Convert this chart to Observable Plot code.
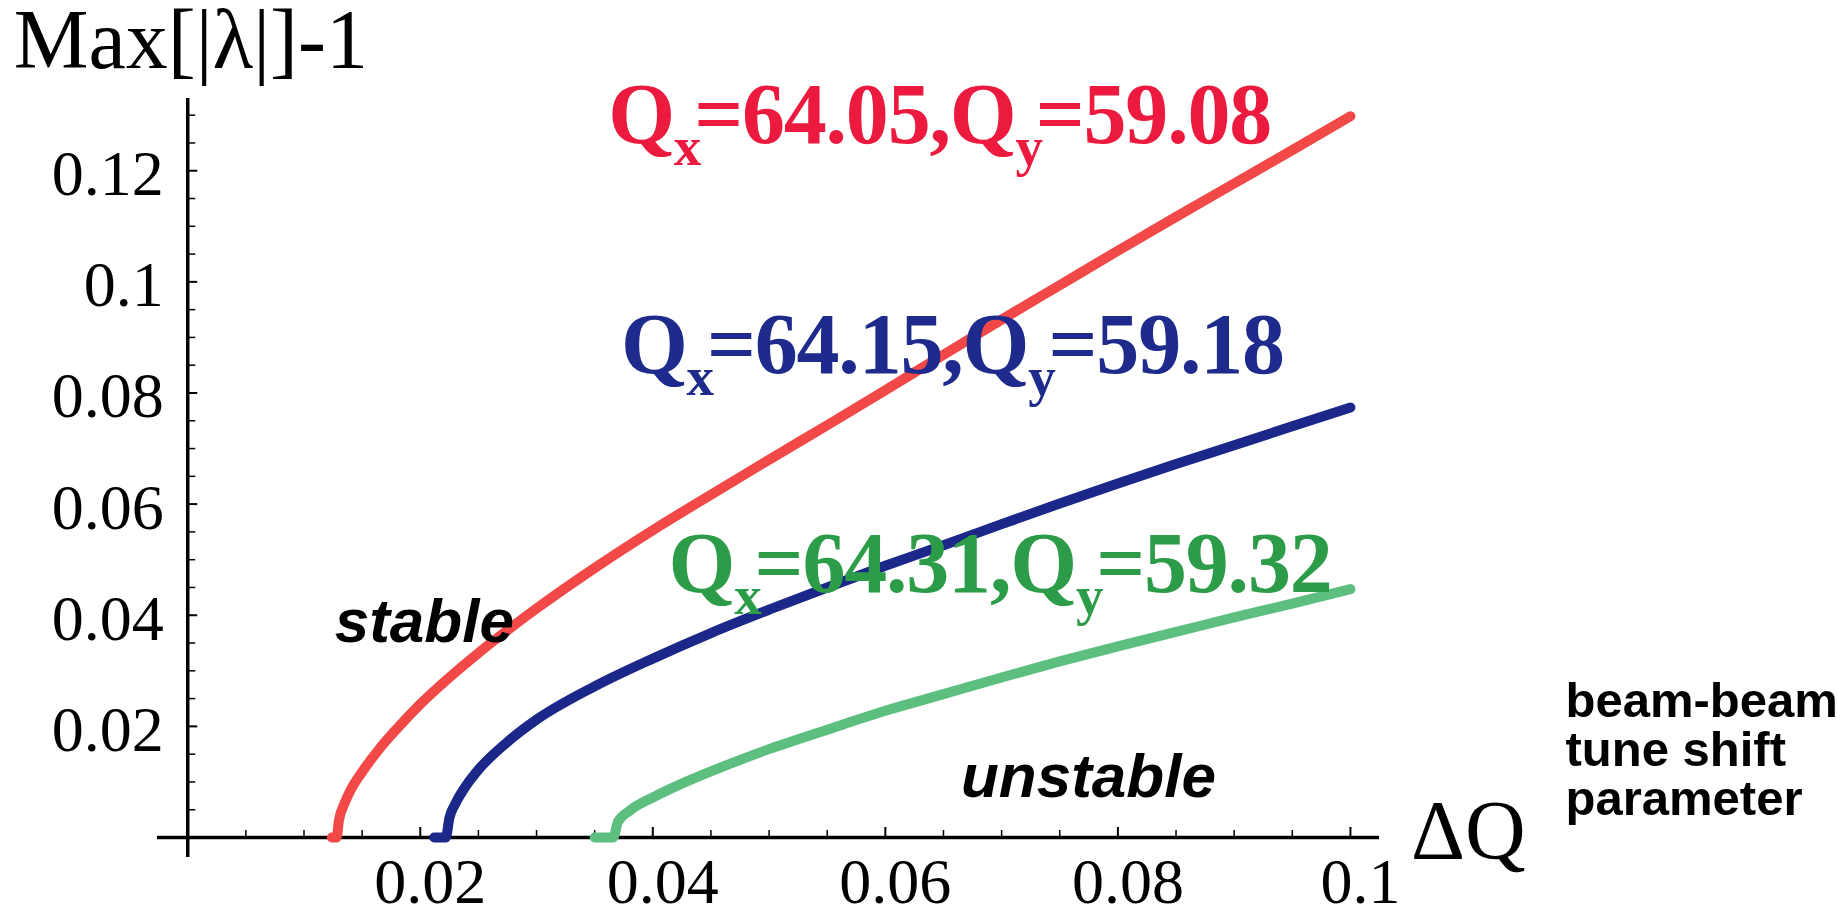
<!DOCTYPE html>
<html><head><meta charset="utf-8">
<script src="https://cdn.jsdelivr.net/npm/d3@7"></script>
<script src="https://cdn.jsdelivr.net/npm/@observablehq/plot@0.6"></script>
<style>body{margin:0;background:#fff;overflow:hidden} svg{display:block;overflow:visible}</style>
</head><body><div id="chart"></div>
<script>
// ---- data ----
const redDQ  = [0.0124,0.0128,0.0130,0.0135,0.0140,0.0150,0.0165,0.0180,0.0200,0.0225,0.0250,0.0275,0.0300,0.0350,0.0400,0.0450,0.0500,0.0550,0.0600,0.0650,0.0700,0.0750,0.0800,0.0850,0.0900,0.0950,0.1000];
const redVal = [0,0,0.0030,0.0062,0.0085,0.0118,0.0160,0.0196,0.0240,0.0288,0.0332,0.0373,0.0412,0.0485,0.0553,0.0617,0.0680,0.0742,0.0805,0.0869,0.0932,0.0994,0.1056,0.1117,0.1177,0.1237,0.1298];
const blueDQ  = [0.0212,0.0222,0.0225,0.0230,0.0240,0.0250,0.0275,0.0300,0.0350,0.0400,0.0450,0.0500,0.0550,0.0600,0.0650,0.0700,0.0750,0.0800,0.0850,0.0900,0.0950,0.1000];
const blueVal = [0,0,0.0035,0.0060,0.0095,0.0122,0.0172,0.0212,0.0272,0.0322,0.0368,0.0410,0.0450,0.0489,0.0526,0.0564,0.0601,0.0637,0.0672,0.0706,0.0740,0.0774];
const greenDQ  = [0.0350,0.0366,0.0370,0.0380,0.0400,0.0425,0.0450,0.0500,0.0550,0.0600,0.0650,0.0700,0.0750,0.0800,0.0850,0.0900,0.0950,0.1000];
const greenVal = [0,0,0.0028,0.0048,0.0072,0.0097,0.0119,0.0159,0.0194,0.0228,0.0258,0.0288,0.0317,0.0344,0.0370,0.0396,0.0421,0.0447];
const seriesNames = ["Qx=64.05,Qy=59.08","Qx=64.15,Qy=59.18","Qx=64.31,Qy=59.32"];
const labelParts = [["64.05","59.08"],["64.15","59.18"],["64.31","59.32"]];
const xTickValues = [0.02,0.04,0.06,0.08,0.1];
const yTickValues = [0.02,0.04,0.06,0.08,0.1,0.12];
const xTickLabels = ["0.02","0.04","0.06","0.08","0.1"];
const yTickLabels = ["0.02","0.04","0.06","0.08","0.1","0.12"];
const xMinor = d3.range(1,21).map(i => +(i*0.005).toFixed(3));
const yMinor = d3.range(1,27).map(i => +(i*0.005).toFixed(3));
const yTitle = "Max[|λ|]-1";
const xTitle = "ΔQ";
const noteStable = "stable";
const noteUnstable = "unstable";
const noteParam = "beam-beam\ntune shift\nparameter";

// ---- styles / layout ----
const lineColors  = ["#f24848","#1c2889","#5cbf80"];
const labelColors = ["#ec1a3e","#1e2a8c","#2c9c48"];
const W = 1837, H = 918, mL = 157, mR = 458, mT = 98, mB = 61;
const xDom = [-0.0026, 0.1025], yDom = [-0.0036, 0.133];
const fW = W - mL - mR, fH = H - mT - mB;
const x0px = mL + (0 - xDom[0]) / (xDom[1] - xDom[0]) * fW;
const y0px = mT + (yDom[1] - 0) / (yDom[1] - yDom[0]) * fH;

const rows = [];
[[redDQ,redVal],[blueDQ,blueVal],[greenDQ,greenVal]].forEach(([xs,ys],k) =>
  xs.forEach((x,i) => rows.push({dq:x, v:ys[i], s:seriesNames[k]})));

const serif = "'Liberation Serif','Times New Roman',serif";
const sans = "'Liberation Sans',Arial,sans-serif";

const plot = Plot.plot({
  width: W, height: H, marginLeft: mL, marginRight: mR, marginTop: mT, marginBottom: mB,
  x: {domain: xDom, axis: null},
  y: {domain: yDom, axis: null},
  color: {domain: seriesNames, range: lineColors},
  style: {background: "#fff", overflow: "visible"},
  marks: [
    Plot.ruleY([0], {stroke: "#000", strokeWidth: 3.5}),
    Plot.ruleX([0], {stroke: "#000", strokeWidth: 3.5}),
    Plot.tickX(xMinor.filter(d => !xTickValues.includes(d)), {x: d => d, stroke: "#000", strokeWidth: 1.5, insetTop: (y0px - 7) - mT, insetBottom: H - mB - y0px}),
    Plot.tickX(xTickValues, {x: d => d, stroke: "#000", strokeWidth: 2, insetTop: (y0px - 10) - mT, insetBottom: H - mB - y0px}),
    Plot.tickY(yMinor.filter(d => !yTickValues.includes(d)), {y: d => d, stroke: "#000", strokeWidth: 1.5, insetLeft: x0px - mL, insetRight: (mL + fW) - (x0px + 8)}),
    Plot.tickY(yTickValues, {y: d => d, stroke: "#000", strokeWidth: 2, insetLeft: x0px - mL, insetRight: (mL + fW) - (x0px + 10)}),
    Plot.text(xTickValues, {x: d => d, y: 0, text: (d,i) => xTickLabels[i], dx: 10, dy: 66, lineAnchor: "bottom", fontSize: 64, fontFamily: serif, fill: "#000"}),
    Plot.text(yTickValues, {x: 0, y: d => d, text: (d,i) => yTickLabels[i], dx: -24, dy: 4, textAnchor: "end", lineAnchor: "middle", fontSize: 64, fontFamily: serif, fill: "#000"}),
    Plot.line(rows, {x: "dq", y: "v", stroke: "s", z: "s", strokeWidth: 10, strokeLinecap: "round", strokeLinejoin: "round", curve: "monotone-x"}),
    Plot.text([yTitle], {x: -0.01496, y: 0.1384, text: d => d, textAnchor: "start", lineAnchor: "bottom", fontSize: 84, fontFamily: serif, fill: "#000"}),
    Plot.text([xTitle], {x: 0.1052, y: -0.0038, text: d => d, textAnchor: "start", lineAnchor: "bottom", fontSize: 84, fontFamily: serif, fill: "#000"}),
    Plot.text([noteStable], {x: 0.01264, y: 0.0351, text: d => d, textAnchor: "start", lineAnchor: "bottom", fontSize: 62, fontWeight: "bold", fontStyle: "italic", fontFamily: sans, fill: "#000"}),
    Plot.text([noteUnstable], {x: 0.0665, y: 0.0072, text: d => d, textAnchor: "start", lineAnchor: "bottom", fontSize: 62, fontWeight: "bold", fontStyle: "italic", fontFamily: sans, fill: "#000"}),
    Plot.text([noteParam], {x: 0.1185, y: 0.028, text: d => d, textAnchor: "start", lineAnchor: "top", lineHeight: 1.0, fontSize: 49, fontWeight: "bold", fontFamily: sans, fill: "#000"})
  ]
});
document.getElementById("chart").appendChild(plot);

// ---- series labels with subscripts ----
const sx = plot.scale("x"), sy = plot.scale("y");
const labelPos = [[0.0362,0.1249],[0.0373,0.0835],[0.0414,0.0441]];
const svg = d3.select(plot);
labelParts.forEach((p,k) => {
  const t = svg.append("text")
    .attr("x", sx.apply(labelPos[k][0])).attr("y", sy.apply(labelPos[k][1]))
    .attr("text-anchor", "start")
    .attr("fill", labelColors[k]).attr("font-family", serif).attr("font-weight", "bold")
    .attr("font-size", 86).attr("letter-spacing", -1.2);
  t.append("tspan").text("Q");
  t.append("tspan").attr("dy", 22).attr("font-size", 55).text("x");
  t.append("tspan").attr("dy", -22).attr("dx", -6).text("=" + p[0] + ",Q");
  t.append("tspan").attr("dy", 22).attr("font-size", 55).text("y");
  t.append("tspan").attr("dy", -22).attr("dx", -6).text("=" + p[1]);
});
</script></body></html>
